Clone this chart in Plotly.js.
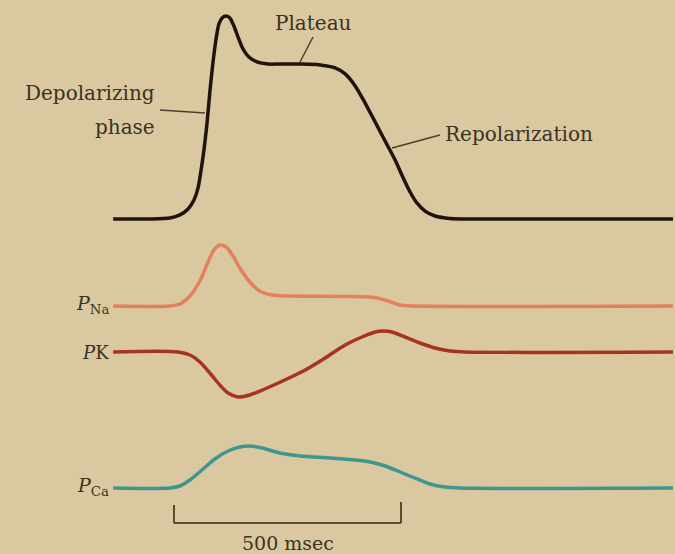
<!DOCTYPE html>
<html><head><meta charset="utf-8">
<script src="https://cdn.plot.ly/plotly-3.0.1.min.js"></script>
<style>html,body{margin:0;padding:0;background:#dac9a0;}</style>
</head><body>
<div id="chart" style="width:675px;height:554px;"></div>
<script>
// Action potential (time in ms, membrane potential in mV)
const apTime = [-134, -53, -9, 13, 31, 44, 53, 59, 66, 73, 79, 86, 93, 99, 106, 115, 123, 132, 141, 152, 165, 183, 207, 233, 278, 322, 355, 377, 399, 421, 443, 465, 487, 504, 520, 535, 553, 575, 608, 718, 1099];
const apMv   = [-90, -90, -89.4, -87.7, -84.3, -79.2, -72.4, -63.4, -50.9, -35.0, -18.0, -1.0, 12.5, 20.5, 23.9, 25.0, 23.9, 19.3, 13.1, 6.3, 1.8, -1.0, -2.2, -2.2, -2.2, -2.7, -4.4, -7.8, -14.6, -24.3, -35.0, -45.8, -56.6, -66.2, -74.7, -80.9, -85.5, -88.3, -89.7, -90, -90];

// Relative permeability changes (arbitrary units, 0 = resting)
const naTime = [-134, -9, 13, 35, 57, 75, 88, 101, 115, 130, 145, 167, 189, 216, 256, 432, 465, 497, 531, 1099];
const pNa    = [0, 0, 0.1, 0.5, 1.25, 2.2, 2.8, 3.05, 2.95, 2.5, 1.9, 1.2, 0.75, 0.55, 0.5, 0.45, 0.3, 0.05, 0, 0];

const kTime = [-134, 9, 35, 57, 79, 101, 119, 141, 167, 200, 244, 289, 333, 377, 414, 443, 460, 480, 509, 542, 575, 608, 641, 1099];
const pK    = [0, 0, -0.15, -0.5, -1.05, -1.65, -2.05, -2.25, -2.15, -1.85, -1.4, -0.9, -0.3, 0.35, 0.75, 1.0, 1.05, 1.0, 0.75, 0.45, 0.2, 0.05, 0, 0];

const caTime = [-134, -9, 13, 35, 64, 90, 119, 145, 167, 194, 233, 278, 344, 399, 432, 465, 498, 531, 564, 597, 630, 1099];
const pCa    = [0, 0, 0.1, 0.4, 0.95, 1.45, 1.85, 2.05, 2.1, 2.0, 1.75, 1.6, 1.5, 1.4, 1.3, 1.1, 0.8, 0.5, 0.2, 0.05, 0, 0];

const scaleLabel = '500 msec';
const scaleMs = [0, 500];

// ---- layout helpers (pixel geometry of the figure) ----
const W = 675, H = 554;
const xPxPerMs = 227 / 500, xZeroPx = 174;
const xRange = [-xZeroPx / xPxPerMs, (W - xZeroPx) / xPxPerMs];
function yRange(basePx, baseVal, pxPerUnit) {
  return [baseVal - (H - basePx) / pxPerUnit, baseVal + basePx / pxPerUnit];
}
const px = x => x / W;
const py = y => 1 - y / H;

const serif = 'DejaVu Serif, Liberation Serif, serif';
const txt = '#3a3222';

function trace(x, y, axis, color) {
  return {x: x, y: y, xaxis: 'x', yaxis: axis, mode: 'lines', hoverinfo: 'skip', showlegend: false,
          line: {shape: 'spline', smoothing: 0.8, color: color, width: 3.5}};
}
const traces = [
  trace(apTime, apMv, 'y', '#1e140c'),
  trace(naTime, pNa, 'y2', '#e5805f'),
  trace(kTime, pK, 'y3', '#a8341f'),
  trace(caTime, pCa, 'y4', '#3f968e')
];

const hidden = {visible: false, fixedrange: true};
const lead = {color: '#4a3f2c', width: 1.5};
const br = {color: '#5a4a30', width: 2};
function ann(text, x, y, xanchor, size, xref) {
  return {text: text, xref: xref || 'paper', yref: 'paper', x: x, y: y, xanchor: xanchor, yanchor: 'middle',
          showarrow: false, font: {family: serif, size: size, color: txt}};
}
const layout = {
  width: W, height: H,
  margin: {l: 0, r: 0, t: 0, b: 0},
  paper_bgcolor: '#dac9a0', plot_bgcolor: '#dac9a0',
  xaxis: Object.assign({range: xRange}, hidden),
  yaxis: Object.assign({range: yRange(219, -90, 203 / 115)}, hidden),
  yaxis2: Object.assign({range: yRange(306, 0, 20), overlaying: 'y'}, hidden),
  yaxis3: Object.assign({range: yRange(352, 0, 20), overlaying: 'y'}, hidden),
  yaxis4: Object.assign({range: yRange(488, 0, 20), overlaying: 'y'}, hidden),
  shapes: [
    {type: 'line', xref: 'paper', yref: 'paper', x0: px(160), y0: py(110), x1: px(205), y1: py(113), line: lead},
    {type: 'line', xref: 'paper', yref: 'paper', x0: px(313), y0: py(37), x1: px(300), y1: py(62), line: lead},
    {type: 'line', xref: 'paper', yref: 'paper', x0: px(440), y0: py(135), x1: px(392), y1: py(148), line: lead},
    {type: 'line', xref: 'x', yref: 'paper', x0: scaleMs[0], x1: scaleMs[0], y0: py(505), y1: py(523), line: br},
    {type: 'line', xref: 'x', yref: 'paper', x0: scaleMs[1], x1: scaleMs[1], y0: py(502), y1: py(523), line: br},
    {type: 'line', xref: 'x', yref: 'paper', x0: scaleMs[0], x1: scaleMs[1], y0: py(523), y1: py(523), line: br}
  ],
  annotations: [
    ann('Depolarizing', px(157), py(93), 'right', 20),
    ann('phase', px(157), py(127), 'right', 20),
    ann('Plateau', px(313), py(23), 'center', 20),
    ann('Repolarization', px(443), py(134), 'left', 20),
    ann(scaleLabel, (scaleMs[0] + scaleMs[1]) / 2, py(543), 'center', 19, 'x'),
    ann('<i>P</i><sub>Na</sub>', px(111), py(304), 'right', 19),
    ann('<i>P</i>K', px(111), py(352), 'right', 18),
    ann('<i>P</i><sub>Ca</sub>', px(111), py(486), 'right', 19)
  ]
};

Plotly.newPlot('chart', traces, layout, {staticPlot: true, displayModeBar: false});
</script>
</body></html>
